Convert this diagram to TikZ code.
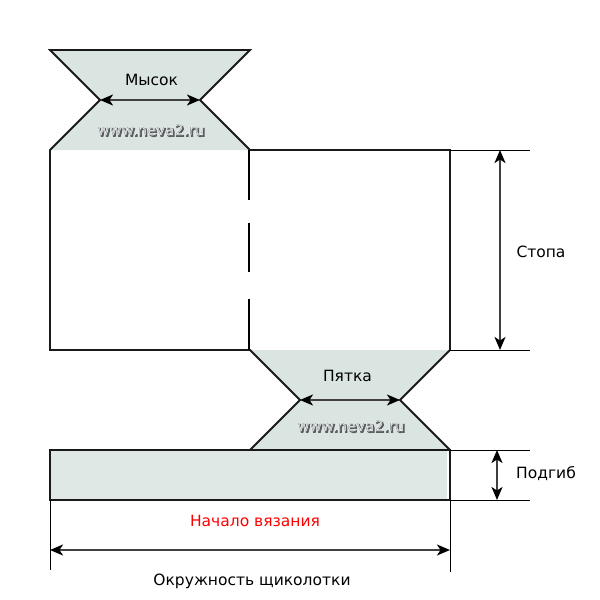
\documentclass[tikz,border=0pt]{standalone}
\usepackage{fontspec}
\setmainfont{DejaVu Sans}
\usetikzlibrary{arrows.meta}
\definecolor{heel}{HTML}{DAE5E2}
\definecolor{cuff}{HTML}{DFE8E4}
\definecolor{markgray}{HTML}{9A9F9F}
\definecolor{markshadow}{HTML}{5A5E5E}
\newcommand{\wmstroke}[1]{\textcolor{markgray}{\special{pdf:code q 2 Tr 0.45 w 0.96 0.97 0.97 RG}#1\special{pdf:code Q}}}
\newcommand{\wmbold}[1]{\textcolor{markshadow}{\special{pdf:code q 2 Tr 0.9 w 0.35 0.37 0.37 RG}#1\special{pdf:code Q}}}
\tikzset{
  outline/.style={line width=1.8pt,draw=black!90,line cap=round,line join=miter},
  thin line/.style={line width=1pt,draw=black},
  dimen/.style={line width=1.8pt,draw=black!75,{Stealth[length=13pt,width=11pt,inset=3.5pt,color=black]}-{Stealth[length=13pt,width=11pt,inset=3.5pt,color=black]}},
  label/.style={font=\fontsize{15.5pt}{17pt}\selectfont,text=black,inner sep=0pt},
  wmfont/.style={font=\fontsize{15pt}{17pt}\selectfont,inner sep=0pt},
}
\begin{document}
\begin{tikzpicture}[x=1pt,y=-1pt]
\useasboundingbox (0,0) rectangle (600,600);
% key points
\coordinate (tl) at (50,50);
\coordinate (tr) at (250,50);
\coordinate (wl) at (100,100);
\coordinate (wr) at (200,100);
\coordinate (a) at (50,150);
\coordinate (b) at (250,150);
\coordinate (c) at (450,150);
\coordinate (d) at (50,350);
\coordinate (e) at (250,350);
\coordinate (f) at (450,350);
\coordinate (hl) at (300,400);
\coordinate (hr) at (400,400);
\coordinate (g) at (250,450);
\coordinate (h) at (450,450);
\coordinate (i) at (50,450);
\coordinate (j) at (50,500);
\coordinate (k) at (450,500);
% fills
\fill[heel] (tl) -- (tr) -- (wr) -- (b) -- (a) -- (wl) -- cycle;
\fill[heel] (e) -- (f) -- (hr) -- (h) -- (g) -- (hl) -- cycle;
\fill[cuff] (i) rectangle (447,500);
% outlines
\draw[outline] (a) -- (d) -- (e) -- (hl) -- (g);
\draw[outline] (wr) -- (tr) -- (tl) -- (wl) -- (a);
\draw[outline] (wr) -- (b) -- (c) -- (f) -- (hr) -- (h);
\draw[outline] (i) -- (h) -- (k) -- (j) -- cycle;
% dashed fold
\coordinate (s0) at (249,150);
\coordinate (s1) at (249,200);
\coordinate (s2) at (249,223);
\coordinate (s3) at (249,272);
\coordinate (s4) at (249,299);
\coordinate (s5) at (249,350);
\draw[line width=1.8pt,draw=black] (s0) -- (s1) (s2) -- (s3) (s4) -- (s5);
% extension lines
\coordinate (c2) at (530,150);
\coordinate (f2) at (530,350);
\coordinate (h2) at (530,450);
\coordinate (k2) at (530,500);
\coordinate (jb) at (50,570);
\coordinate (kb) at (450,572);
\draw[thin line] (c) -- (c2);
\draw[thin line] (f) -- (f2);
\draw[thin line] (h) -- (h2);
\draw[thin line] (k) -- (k2);
\draw[thin line] (j) -- (jb);
\draw[thin line] (k) -- (kb);
% dimension arrows
\coordinate (sa) at (500,150);
\coordinate (sb) at (500,350);
\coordinate (pa) at (497,450);
\coordinate (pb) at (497,500);
\coordinate (oa) at (50,550);
\coordinate (ob) at (450,550);
\draw[dimen] (wl) -- (wr);
\draw[dimen] (hl) -- (hr);
\draw[dimen] (sa) -- (sb);
\draw[dimen] (pa) -- (pb);
\draw[dimen] (oa) -- (ob);
% labels
\node[label] (myso) at (151.5,80) {Мысок};
\node[label] (pyat) at (347.5,376) {Пятка};
\node[label] (stop) at (541,252) {Стопа};
\node[label] (podg) at (546,474) {Подгиб};
\node[label,text=red] (nach) at (255,521) {Начало вязания};
\node[label] (okr) at (252,581) {Окружность щиколотки};
% watermarks
\foreach \n/\px/\py in {m/150.5/129.5,h/350.5/425.5}{
  \node[wmfont] at (\px+1.5,\py+1.5) {\wmbold{www.neva2.ru}};
  \node[wmfont] (wm\n) at (\px,\py) {\wmstroke{www.neva2.ru}};
}
\end{tikzpicture}
\end{document}
